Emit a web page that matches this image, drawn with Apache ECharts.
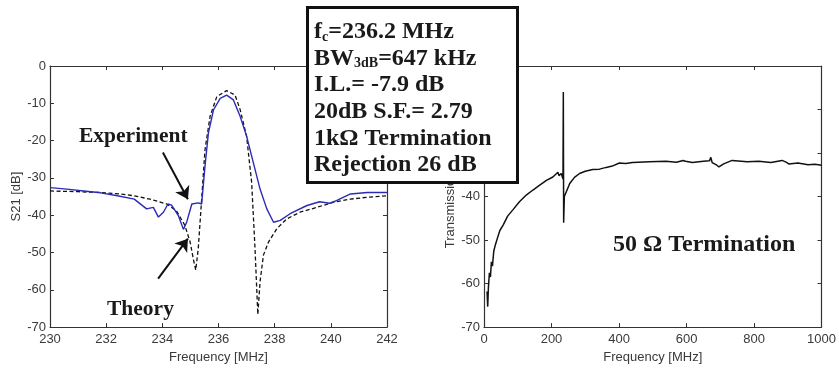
<!DOCTYPE html>
<html>
<head>
<meta charset="utf-8">
<script src="https://cdn.jsdelivr.net/npm/echarts@6/dist/echarts.min.js"></script>
<style>html,body{margin:0;padding:0;background:#fff;}#c{width:839px;height:369px;}</style>
</head>
<body>
<div id="c"></div>
<script>
// ---- Left panel (1 kOhm termination), frequency in MHz, S21 in dB ----
var expFreq = [230, 230.6, 231.2, 231.8, 232.4, 233.0, 233.44, 233.68, 233.86, 234.04, 234.2, 234.33, 234.57, 234.75, 234.87, 235.05, 235.28, 235.4, 235.52, 235.64, 235.82, 236.06, 236.29, 236.53, 236.77, 237.0, 237.24, 237.48, 237.72, 237.96, 238.2, 238.55, 239.15, 239.6, 239.96, 240.2, 240.7, 241.3, 242];
var expS21 = [-32.6, -33.0, -33.5, -34.0, -34.8, -35.7, -38.3, -37.9, -40.5, -39.2, -37.0, -37.3, -40.1, -43.8, -41.8, -37.0, -36.7, -37.0, -26.8, -18.0, -11.8, -8.7, -7.8, -9.1, -13.5, -18.8, -25.9, -33.0, -38.3, -41.9, -41.4, -39.6, -37.4, -36.4, -36.8, -36.1, -34.3, -33.9, -33.9];
var theoryFreq = [230, 231, 231.8, 232.5, 233, 233.56, 234.16, 234.5, 234.8, 234.99, 235.1, 235.19, 235.28, 235.4, 235.52, 235.7, 235.94, 236.29, 236.59, 236.77, 237.0, 237.18, 237.3, 237.4, 237.48, 237.6, 237.78, 238.08, 238.43, 238.9, 239.5, 240.1, 240.69, 241.28, 242];
var theoryS21 = [-33.5, -33.7, -33.9, -34.3, -34.8, -35.7, -37.0, -38.8, -42.7, -47.2, -51.6, -54.7, -48.9, -35.7, -22.4, -13.5, -8.2, -6.6, -7.8, -11.7, -18.8, -31.2, -48.9, -66.6, -57.8, -50.7, -47.2, -43.6, -41.0, -39.2, -37.9, -36.5, -35.7, -35.2, -34.8];

// ---- Right panel (50 Ohm termination) ----
var wideFreq = [9, 11, 13, 16, 19, 22, 25, 29, 34, 40, 47, 57, 70, 86, 105, 126, 145, 165, 185, 204, 219, 222, 229, 234, 235, 236, 238, 242, 254, 268, 283, 300, 322, 342, 362, 380, 401, 420, 440, 490, 539, 570, 590, 593, 597, 617, 650, 668, 672, 676, 690, 696, 710, 735, 780, 814, 850, 883, 895, 903, 930, 960, 980, 1000];
var wideTrans = [-61.8, -65.3, -61, -57.5, -58.5, -55, -56, -52.5, -51, -49.5, -47.8, -46.5, -44.5, -43, -41.2, -39.6, -38.5, -37.4, -36.3, -35.5, -34.4, -35.2, -34.7, -36, -16, -46, -40, -39.6, -37, -35.6, -34.7, -34.2, -33.8, -33.7, -33.3, -33, -32.3, -32.4, -32.2, -32.0, -31.9, -32.1, -31.7, -31.3, -31.9, -32.2, -31.9, -31.8, -31.0, -32.2, -32.8, -33.2, -32.5, -31.7, -32.0, -31.9, -32.2, -31.7, -32.1, -32.5, -32.3, -32.7, -32.6, -32.8];

// ---- Axis ranges / ticks ----
var leftX = {min: 230, max: 242, interval: 2};
var leftY = {min: -70, max: 0, interval: 10};
var rightX = {min: 0, max: 1000, interval: 200};
var rightY = {min: -70, max: -10, interval: 10};

// ---- Text ----
var boxLines = [
  [['f', 'b'], ['c', 'sub'], ['=236.2 MHz', 'b']],
  [['BW', 'b'], ['3dB', 'sub'], ['=647 kHz', 'b']],
  [['I.L.= -7.9 dB', 'b']],
  [['20dB S.F.= 2.79', 'b']],
  [['1k\u03A9 Termination', 'b']],
  [['Rejection 26 dB', 'b']]
];
var expArrow = [[234.02, -23.2], [234.91, -35.7]];
var theoryArrow = [[233.85, -57.0], [234.91, -46.3]];

function zip(a, b) { return a.map(function (v, i) { return [v, b[i]]; }); }

var SANS = 'Liberation Sans, Arial, sans-serif';
var SERIF = 'Liberation Serif, Times New Roman, serif';
var lblColor = '#3a3a3a';
var lineColor = '#333';

function plain(v) { return String(v); }

function xAx(gi, r, pos, showLabel) {
  return {
    type: 'value', gridIndex: gi, position: pos, min: r.min, max: r.max, interval: r.interval,
    axisLine: {show: true, onZero: false, lineStyle: {color: lineColor, width: 1.2}},
    axisTick: {show: true, inside: true, length: 4, lineStyle: {color: lineColor}},
    axisLabel: {show: showLabel, color: lblColor, fontFamily: SANS, fontSize: 13, margin: 6, formatter: plain},
    splitLine: {show: false},
    name: showLabel ? 'Frequency [MHz]' : '', nameLocation: 'middle', nameGap: 22,
    nameTextStyle: {color: lblColor, fontFamily: SANS, fontSize: 13}
  };
}
function yAx(gi, r, pos, showLabel, name) {
  return {
    type: 'value', gridIndex: gi, position: pos, min: r.min, max: r.max, interval: r.interval,
    axisLine: {show: true, onZero: false, lineStyle: {color: lineColor, width: 1.2}},
    axisTick: {show: true, inside: true, length: 4, lineStyle: {color: lineColor}},
    axisLabel: {show: showLabel, color: lblColor, fontFamily: SANS, fontSize: 13, margin: 4, formatter: plain},
    splitLine: {show: false},
    name: showLabel ? name : '', nameLocation: 'middle', nameGap: 24,
    nameTextStyle: {color: lblColor, fontFamily: SANS, fontSize: 13}
  };
}

var boxGraphics = boxLines.map(function (line, i) {
  return {
    type: 'text', left: 314, top: 20 + i * 26.6, z: 101,
    style: {
      rich: {
        b: {fontFamily: SERIF, fontWeight: 'bold', fontSize: 24, fill: '#1a1a1a', height: 26},
        sub: {fontFamily: SERIF, fontWeight: 'bold', fontSize: 14, fill: '#1a1a1a', height: 26, padding: [10, 0, 0, 0]}
      },
      text: line.map(function (t) { return '{' + t[1] + '|' + t[0] + '}'; }).join('')
    }
  };
});

var arrowLine = {
  silent: true, symbol: ['none', 'arrow'], symbolSize: 12,
  lineStyle: {color: '#111', width: 2, type: 'solid'}, label: {show: false},
  itemStyle: {color: '#111'}
};

var option = {
  animation: false,
  backgroundColor: '#fff',
  grid: [
    {left: 50, top: 66, width: 337, height: 263},
    {left: 484, top: 66, width: 339, height: 265}
  ],
  xAxis: [xAx(0, leftX, 'bottom', true), xAx(0, leftX, 'top', false),
          xAx(1, rightX, 'bottom', true), xAx(1, rightX, 'top', false)],
  yAxis: [yAx(0, leftY, 'left', true, 'S21 [dB]'), yAx(0, leftY, 'right', false),
          yAx(1, rightY, 'left', true, 'Transmission [dB]'), yAx(1, rightY, 'right', false)],
  series: [
    {
      type: 'line', xAxisIndex: 0, yAxisIndex: 0, data: zip(theoryFreq, theoryS21),
      showSymbol: false, lineStyle: {color: '#111', width: 1.3, type: [4, 2.5]},
      markLine: Object.assign({data: [[{coord: theoryArrow[0]}, {coord: theoryArrow[1]}]]}, arrowLine)
    },
    {
      type: 'line', xAxisIndex: 0, yAxisIndex: 0, data: zip(expFreq, expS21),
      showSymbol: false, lineStyle: {color: '#2b2bb5', width: 1.4},
      markLine: Object.assign({data: [[{coord: expArrow[0]}, {coord: expArrow[1]}]]}, arrowLine)
    },
    {
      type: 'line', xAxisIndex: 2, yAxisIndex: 2, data: zip(wideFreq, wideTrans),
      showSymbol: false, lineStyle: {color: '#111', width: 1.5}
    }
  ],
  graphic: [
    {type: 'text', left: 79, top: 125, z: 50,
     style: {text: 'Experiment', fontFamily: SERIF, fontWeight: 'bold', fontSize: 21.5, fill: '#1a1a1a'}},
    {type: 'text', left: 107, top: 298, z: 50,
     style: {text: 'Theory', fontFamily: SERIF, fontWeight: 'bold', fontSize: 21.5, fill: '#1a1a1a'}},
    {type: 'text', left: 613, top: 233, z: 50,
     style: {text: '50 \u03A9 Termination', fontFamily: SERIF, fontWeight: 'bold', fontSize: 24, fill: '#1a1a1a'}},
    {type: 'rect', left: 306, top: 6, z: 100,
     shape: {width: 210, height: 175},
     style: {fill: '#fff', stroke: '#111', lineWidth: 3}}
  ].concat(boxGraphics)
};

var chart = echarts.init(document.getElementById('c'), null, {renderer: 'canvas'});
chart.setOption(option);
</script>
</body>
</html>
